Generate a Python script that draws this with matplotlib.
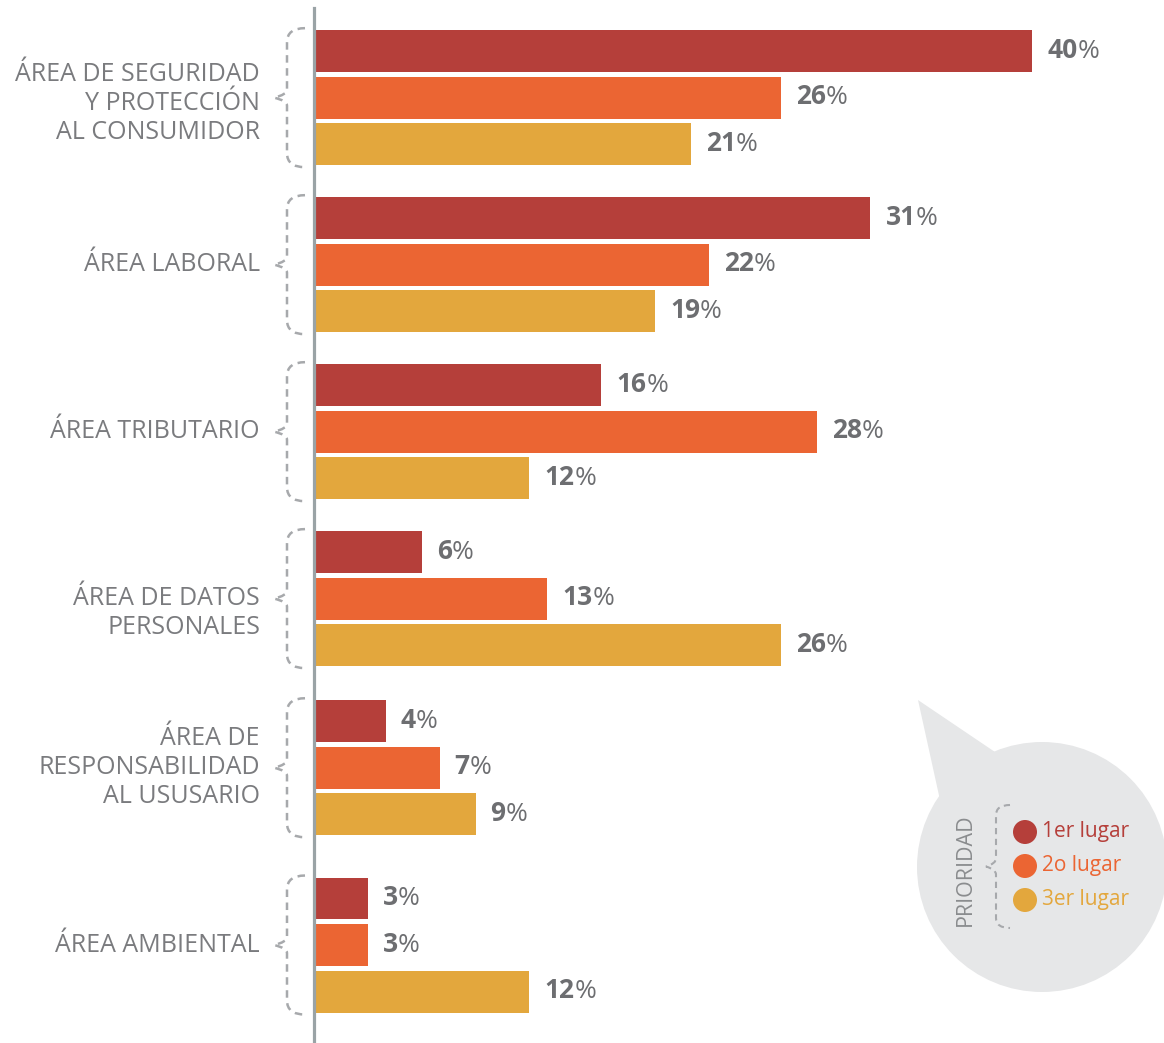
import numpy as np
import matplotlib
matplotlib.use("Agg")
import matplotlib.pyplot as plt
from matplotlib.path import Path
from matplotlib.patches import PathPatch, Circle, Polygon

# data
categories = ["ÁREA DE SEGURIDAD\nY PROTECCIÓN\nAL CONSUMIDOR", "ÁREA LABORAL",
              "ÁREA TRIBUTARIO", "ÁREA DE DATOS\nPERSONALES",
              "ÁREA DE\nRESPONSABILIDAD\nAL USUSARIO", "ÁREA AMBIENTAL"]
primer = [40, 31, 16, 6, 4, 3]
segundo = [26, 22, 28, 13, 7, 3]
tercer = [21, 19, 12, 26, 9, 12]
series_names = ["1er lugar", "2o lugar", "3er lugar"]
colors = ["#b53f3a", "#eb6533", "#e3a73d"]

W, H = 1164, 1043
FONT = "Open Sans"
GRAY_TXT = "#7a7b7e"
GRAY_VAL = "#6d6e71"
GRAY_BR = "#a7a9ac"

fig = plt.figure(figsize=(W / 100, H / 100), dpi=100)
ax = fig.add_axes([314 / W, 0, 1 - 314 / W, 1 - 8 / H])
ov = fig.add_axes([0, 0, 1, 1], zorder=-1)
ov.set_xlim(0, W); ov.set_ylim(H, 0); ov.axis("off")

# group centres (slightly uneven spacing, as in the original layout)
gy = np.array([0.01, 0.9935, 1.977, 2.960, 3.956, 5.0])
off = 0.274
bh = 0.247
for k, vals in enumerate([primer, segundo, tercer]):
    ys = gy + (k - 1) * off
    ax.barh(ys, vals, height=bh, color=colors[k], edgecolor="none")
    for y, v in zip(ys, vals):
        t = ax.annotate(f"{v}", xy=(v, y), xytext=(15, 1), textcoords="offset pixels",
                        va="center", ha="left", fontsize=19, fontweight="bold",
                        color=GRAY_VAL, family=FONT)
        ax.annotate("%", xy=(1, 0), xycoords=t, va="bottom", ha="left",
                    fontsize=19, color=GRAY_VAL, family=FONT)

ax.set_xlim(0, (W - 314) / 17.95)
ax.set_ylim(5.577, -0.518)
for s in ["top", "right", "bottom"]:
    ax.spines[s].set_visible(False)
ax.spines["left"].set_color("#9aa3a6")
ax.spines["left"].set_linewidth(2.3)
ax.set_xticks([]); ax.set_yticks([])
ax.patch.set_alpha(0)


def to_px(y):
    return H - ax.transData.transform((0, y))[1]


def brace(x_end, x_mid, x_tip, y0, y1, r=14, lw=1.8):
    ym = (y0 + y1) / 2
    verts = [(x_end, y0), (x_mid, y0), (x_mid, y0 + r),
             (x_mid, ym - 8),
             (x_mid, ym - 3), (x_tip, ym),
             (x_mid, ym + 3), (x_mid, ym + 8),
             (x_mid, y1 - r),
             (x_mid, y1), (x_end, y1)]
    codes = [Path.MOVETO, Path.CURVE3, Path.CURVE3, Path.LINETO,
             Path.CURVE3, Path.CURVE3, Path.CURVE3, Path.CURVE3,
             Path.LINETO, Path.CURVE3, Path.CURVE3]
    ov.add_patch(PathPatch(Path(verts, codes), fill=False, edgecolor=GRAY_BR,
                           lw=lw, ls=(0, (3, 2.2)), capstyle="butt"))


nudges = [6, 0, 0, 14, 0, 0]
for g, label in enumerate(categories):
    top = to_px(gy[g] - off - bh / 2) - 2
    bot = to_px(gy[g] + off + bh / 2) + 2
    brace(305, 287, 274, top, bot)
    ov.text(260, to_px(gy[g]) + nudges[g], label, ha="right", va="center",
            multialignment="right", fontsize=18, color=GRAY_TXT, family=FONT,
            linespacing=1.2)

# legend bubble
cx, cy, R = 1042, 867, 125
ov.add_patch(Polygon([(918, 700), (995, 752), (940, 800)], closed=True,
                     facecolor="#e6e7e8", edgecolor="none"))
ov.add_patch(Circle((cx, cy), R, facecolor="#e6e7e8", edgecolor="none"))
ov.text(965, 870, "PRIORIDAD", rotation=90, ha="center", va="center",
        fontsize=15.5, color="#8a8c8e", family=FONT)
brace(1010, 996, 986, 805, 928, r=10, lw=1.5)
for i, (name, c) in enumerate(zip(series_names, colors)):
    yy = 832 + i * 34
    ov.add_patch(Circle((1025, yy), 12, facecolor=c, edgecolor="none"))
    ov.text(1042, yy, name, ha="left", va="center", fontsize=15, color=c, family=FONT)

fig.savefig("out.png", dpi=100)
